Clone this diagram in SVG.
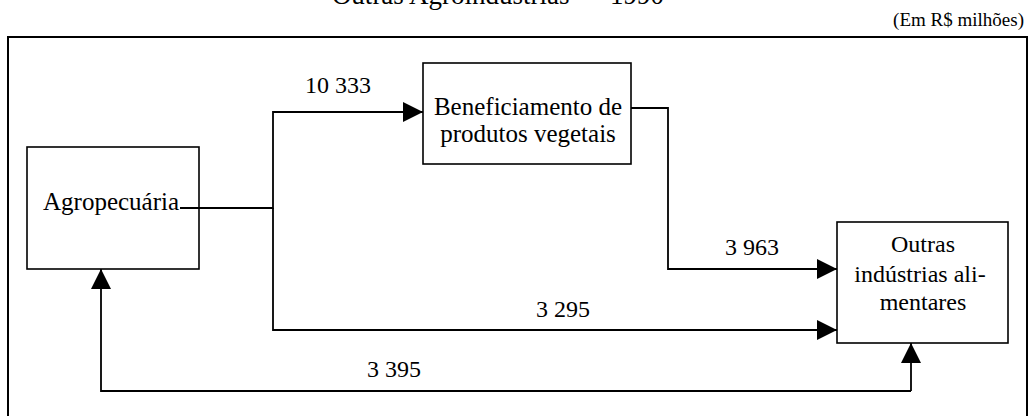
<svg xmlns="http://www.w3.org/2000/svg" width="1031" height="416" viewBox="0 0 1031 416">
<style>
text{font-family:"Liberation Serif","Times New Roman",serif;fill:#000}
.box{fill:#fff;stroke:#000;stroke-width:1.6}
.lbl{font-size:24px;text-anchor:middle}
.con{fill:none;stroke:#000;stroke-width:1.8}
</style>
<defs>
<marker id="ah" markerUnits="userSpaceOnUse" markerWidth="20" markerHeight="20" refX="20" refY="10" orient="auto" viewBox="0 0 20 20">
<path d="M0,0 L20,10 L0,20 z" fill="#000"/>
</marker>
</defs>
<text x="498" y="4" font-size="27" text-anchor="middle">Outras Agroindústrias — 1990</text>
<text x="1024" y="26" font-size="19" text-anchor="end">(Em R$ milhões)</text>
<rect x="8" y="37" width="1019" height="400" fill="none" stroke="#000" stroke-width="2"/>
<g id="agropecuaria">
<rect class="box" x="27" y="147" width="172" height="122"/>
<text x="43" y="210" font-size="25">Agropecuária</text>
</g>
<g id="beneficiamento">
<rect class="box" x="423" y="63" width="208" height="101"/>
<text x="528" y="115" font-size="25" text-anchor="middle">Beneficiamento de</text>
<text x="528" y="142" font-size="25" text-anchor="middle">produtos vegetais</text>
</g>
<g id="outras">
<rect class="box" x="837" y="222" width="171" height="121"/>
<text x="923" y="252" font-size="24" text-anchor="middle">Outras</text>
<text x="920" y="282" font-size="24" text-anchor="middle">indústrias ali-</text>
<text x="923" y="310" font-size="24" text-anchor="middle">mentares</text>
</g>
<g id="connectors">
<path class="con" d="M180,208 H273 V112 H423" marker-end="url(#ah)"/>
<path class="con" d="M273,208 V330 H837" marker-end="url(#ah)"/>
<path class="con" d="M631,108 H668 V269 H837" marker-end="url(#ah)"/>
<path class="con" d="M911,391 V343" marker-end="url(#ah)"/>
<path class="con" d="M911,391 H101 V269" marker-end="url(#ah)"/>
<text class="lbl" x="338" y="93">10 333</text>
<text class="lbl" x="752" y="255">3 963</text>
<text class="lbl" x="563" y="317">3 295</text>
<text class="lbl" x="394" y="377">3 395</text>
</g>
</svg>
